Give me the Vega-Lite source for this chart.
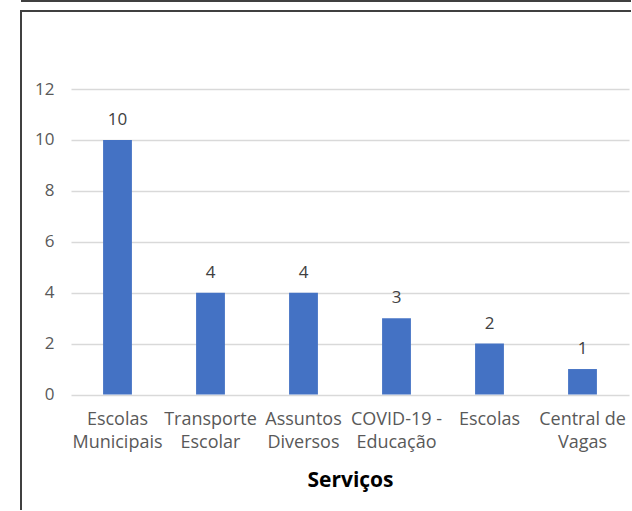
{
  "$schema": "https://vega.github.io/schema/vega-lite/v6.json",
  "padding": {"left": 20, "top": 0, "right": 0, "bottom": 0},
  "spacing": 9,
  "bounds": "flush",
  "config": {"font": "Open Sans", "view": {"stroke": null}},
  "vconcat": [
    {
      "width": 610,
      "height": 2,
      "view": {"fill": "#404040", "stroke": null},
      "data": {"values": []},
      "mark": "point",
      "encoding": {}
    },
    {
      "width": 610,
      "height": 499,
      "view": {"stroke": "#404040", "strokeWidth": 2, "strokeDash": [610, 1109, 499]},
      "data": {
        "values": [
          {"servico": "Escolas Municipais", "valor": 10},
          {"servico": "Transporte Escolar", "valor": 4},
          {"servico": "Assuntos Diversos", "valor": 4},
          {"servico": "COVID-19 - Educação", "valor": 3},
          {"servico": "Escolas", "valor": 2},
          {"servico": "Central de Vagas", "valor": 1}
        ]
      },
      "encoding": {
        "x": {
          "field": "servico",
          "type": "nominal",
          "sort": null,
          "scale": {"range": [50, 608], "paddingInner": 0.69, "paddingOuter": 0.345},
          "axis": {
            "title": "Serviços",
            "titleFont": "Open Sans",
            "titleFontSize": 21,
            "titleFontWeight": "bold",
            "titleColor": "#000000",
            "titleY": 92,
            "titleBaseline": "alphabetic",
            "offset": -115.5,
            "domain": false,
            "ticks": false,
            "grid": false,
            "labelAngle": 0,
            "labelFontSize": 18,
            "labelColor": "#595959",
            "labelPadding": 16,
            "labelBaseline": "top",
            "labelLineHeight": 23,
            "labelExpr": "indexof(datum.label, ' ') < 0 ? datum.label : [substring(datum.label, 0, lastindexof(datum.label, ' ')), substring(datum.label, lastindexof(datum.label, ' ') + 1)]"
          }
        },
        "y": {
          "field": "valor",
          "type": "quantitative",
          "scale": {"domain": [0, 12], "range": [383.5, 78], "nice": false},
          "axis": {
            "title": null,
            "values": [0, 2, 4, 6, 8, 10, 12],
            "offset": -38,
            "domain": false,
            "ticks": false,
            "labelPadding": 5,
            "labelFontSize": 17,
            "labelColor": "#595959",
            "grid": true,
            "gridColor": "#d9d9d9",
            "gridWidth": 1.5
          }
        }
      },
      "layer": [
        {"mark": {"type": "bar", "color": "#4472C4"}},
        {
          "mark": {"type": "text", "dy": -15, "baseline": "alphabetic", "fontSize": 17, "color": "#404040"},
          "encoding": {"text": {"field": "valor", "type": "quantitative"}}
        }
      ]
    }
  ]
}
